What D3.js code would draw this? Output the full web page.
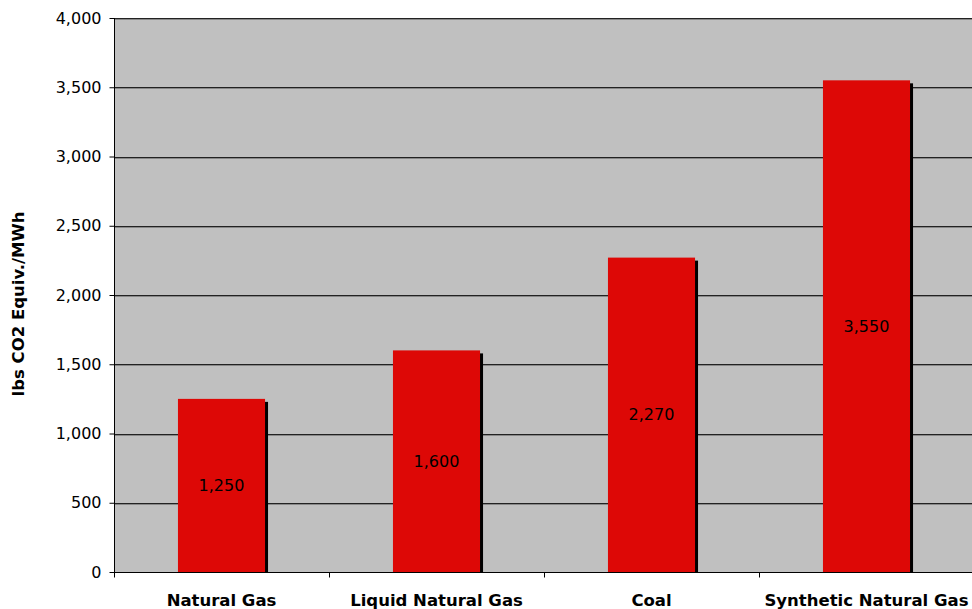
<!DOCTYPE html>
<html><head><meta charset="utf-8">
<script src="https://cdn.jsdelivr.net/npm/d3@7"></script>
<style>body{margin:0;background:#fff;}svg{display:block;font-family:"DejaVu Sans",Verdana,sans-serif;}</style>
</head><body>
<svg id="c" width="972" height="609"></svg>
<script>
const categories = ["Natural Gas","Liquid Natural Gas","Coal","Synthetic Natural Gas"];
const values = [1250,1600,2270,3550];
const yTicks = [0,500,1000,1500,2000,2500,3000,3500,4000];
const yTitle = "lbs CO2 Equiv./MWh";

const svg = d3.select("#c");
const L = 114, R = 974, T = 18, B = 572;
const x = d3.scaleBand().domain(categories).range([L,R]).paddingInner(0.595).paddingOuter(0.2975);
const y = d3.scaleLinear().domain([0,4000]).range([B,T]);
const fmt = d3.format(",");

svg.append("rect").attr("x",L).attr("y",T).attr("width",R-L).attr("height",B-T).attr("fill","#C0C0C0");
svg.append("g").selectAll("line").data(yTicks.filter(d=>d>0)).join("line")
  .attr("x1",L).attr("x2",R).attr("y1",d=>Math.round(y(d))+0.5).attr("y2",d=>Math.round(y(d))+0.5)
  .attr("stroke","#222").attr("stroke-width",1);
svg.append("g").selectAll("line").data(yTicks.filter(d=>d>0)).join("line")
  .attr("x1",L).attr("x2",R).attr("y1",d=>Math.round(y(d))+1.5).attr("y2",d=>Math.round(y(d))+1.5)
  .attr("stroke","#888").attr("stroke-width",1);

const g = svg.append("g");
g.selectAll("rect.sh").data(values).join("rect").attr("class","sh")
  .attr("x",(d,i)=>x(categories[i])+3).attr("y",d=>y(d)+3)
  .attr("width",x.bandwidth()).attr("height",d=>B-y(d)-3).attr("fill","#000");
g.selectAll("rect.b").data(values).join("rect").attr("class","b")
  .attr("x",(d,i)=>x(categories[i])).attr("y",d=>y(d))
  .attr("width",x.bandwidth()).attr("height",d=>B-y(d)).attr("fill","#DD0806");
g.selectAll("text").data(values).join("text")
  .attr("x",(d,i)=>x(categories[i])+x.bandwidth()/2).attr("y",d=>(y(d)+B)/2)
  .attr("text-anchor","middle").attr("dominant-baseline","central")
  .attr("font-size",16).attr("fill","#000").text(d=>fmt(d));

const ya = svg.append("g").attr("transform",`translate(${L+0.5},0)`)
  .call(d3.axisLeft(y).tickValues(yTicks).tickFormat(fmt).tickSize(5).tickPadding(8));
ya.selectAll("text").attr("font-size",16).attr("fill","#000").attr("font-family","DejaVu Sans, Verdana, sans-serif");
ya.selectAll("line,path").attr("stroke","#000");
ya.select("path").attr("d",`M0,${T}V${B}`);

const xa = svg.append("g").attr("transform",`translate(0,${B+0.5})`);
xa.append("line").attr("x1",L).attr("x2",R).attr("stroke","#000");
xa.selectAll("line.t").data(categories).join("line").attr("class","t")
  .attr("x1",d=>Math.round(x(d)-x.step()*x.paddingInner()/2)+0.5)
  .attr("x2",d=>Math.round(x(d)-x.step()*x.paddingInner()/2)+0.5)
  .attr("y1",0).attr("y2",5).attr("stroke","#000");
xa.selectAll("text").data(categories).join("text")
  .attr("x",d=>x(d)+x.bandwidth()/2).attr("y",33)
  .attr("text-anchor","middle").attr("font-size",16.5).attr("font-weight","bold").text(d=>d);

svg.append("text").attr("transform","translate(24,304) rotate(-90)")
  .attr("text-anchor","middle").attr("font-size",16.5).attr("font-weight","bold").text(yTitle);
</script>
</body></html>
